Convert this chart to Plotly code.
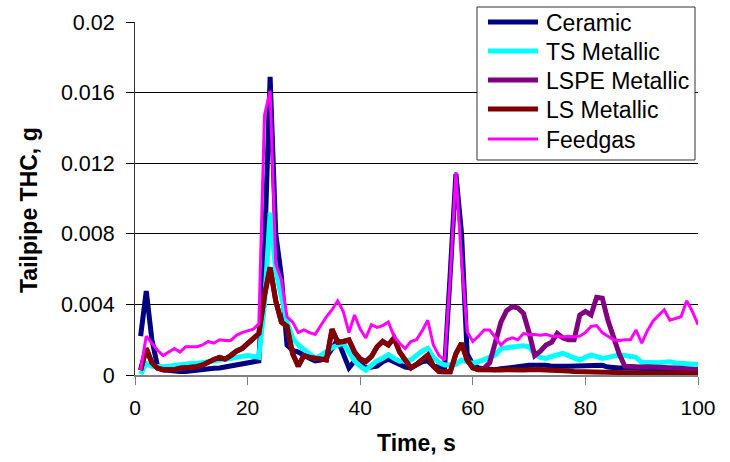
import plotly.graph_objects as go

time_s = list(range(1, 101))

ceramic = [2.2, 4.75, 2.0, 0.5, 0.3, 0.25, 0.2, 0.2, 0.2, 0.25,
           0.25, 0.3, 0.35, 0.38, 0.4, 0.45, 0.5, 0.55, 0.65, 0.7,
           0.75, 0.8, 7.0, 16.9, 8.0, 5.6, 1.7, 1.4, 1.3, 1.1,
           0.95, 0.8, 0.85, 1.0, 1.5, 2.0, 1.2, 0.4, 0.8, 0.65,
           0.4, 0.45, 0.5, 0.75, 0.9, 0.75, 0.6, 0.45, 0.4, 0.55,
           0.75, 0.8, 0.5, 0.45, 0.45, 5.8, 11.4, 8.0, 1.2, 0.6,
           0.4, 0.35, 0.3, 0.3, 0.35, 0.4, 0.4, 0.45, 0.5, 0.55,
           0.55, 0.57, 0.55, 0.5, 0.47, 0.5, 0.5, 0.5, 0.5, 0.55,
           0.57, 0.57, 0.55, 0.45, 0.4, 0.4, 0.4, 0.4, 0.4, 0.38,
           0.38, 0.38, 0.35, 0.35, 0.35, 0.33, 0.33, 0.3, 0.3, 0.3]

ts_metallic = [0.05, 0.65, 0.5, 0.45, 0.47, 0.5, 0.55, 0.6, 0.62, 0.65,
               0.66, 0.7, 0.72, 0.76, 0.8, 0.87, 0.94, 1.0, 1.05, 1.1,
               1.05, 1.0, 4.0, 9.2, 5.9, 4.5, 3.0, 2.1, 1.7, 1.45,
               1.2, 0.95, 1.1, 1.35, 1.55, 1.7, 1.8, 1.3, 0.8, 0.5,
               0.28, 0.55, 0.8, 0.95, 1.15, 0.95, 0.78, 0.8, 0.85, 1.1,
               1.35, 1.5, 1.0, 0.7, 0.57, 0.57, 0.6, 0.85, 0.75, 0.66,
               0.75, 0.85, 1.0, 1.13, 1.5, 1.55, 1.6, 1.62, 1.65, 1.6,
               1.2, 1.0, 0.94, 1.05, 1.15, 1.23, 1.1, 0.95, 0.85, 1.0,
               1.13, 1.05, 0.94, 1.0, 1.1, 1.13, 1.1, 1.05, 1.0, 0.72,
               0.7, 0.68, 0.7, 0.72, 0.75, 0.68, 0.65, 0.62, 0.6, 0.6]

lspe_metallic = [0.28, 1.5, 0.7, 0.38, 0.3, 0.28, 0.3, 0.38, 0.4, 0.45,
                 0.47, 0.57, 0.75, 0.88, 1.0, 0.9, 1.1, 1.35, 1.5, 1.8,
                 2.05, 2.35, 4.5, 6.1, 4.2, 3.0, 2.75, 1.2, 0.5, 1.1,
                 1.0, 0.94, 0.9, 0.85, 2.6, 1.85, 1.9, 1.98, 1.3, 0.9,
                 0.76, 1.05, 1.6, 1.9, 1.7, 2.1, 1.3, 0.8, 0.4, 0.6,
                 0.9, 1.13, 0.5, 0.2, 0.19, 0.19, 1.2, 1.8, 0.85, 0.4,
                 0.3, 0.38, 0.7, 1.8, 3.0, 3.65, 3.87, 3.8, 3.5, 2.4,
                 1.1, 1.35, 1.7, 1.85, 2.35, 2.1, 2.0, 2.0, 3.4, 3.6,
                 3.4, 4.4, 4.35, 3.1, 2.1, 1.2, 0.5, 0.47, 0.46, 0.46,
                 0.47, 0.47, 0.45, 0.47, 0.42, 0.4, 0.38, 0.35, 0.32, 0.3]

ls_metallic = [0.28, 1.5, 0.7, 0.38, 0.3, 0.28, 0.3, 0.38, 0.4, 0.45,
               0.47, 0.57, 0.75, 0.88, 1.0, 0.9, 1.1, 1.35, 1.5, 1.8,
               2.05, 2.35, 4.5, 6.1, 4.2, 3.0, 2.75, 1.2, 0.5, 1.1,
               1.0, 0.94, 0.9, 0.85, 2.6, 1.85, 1.9, 1.98, 1.3, 0.9,
               0.76, 1.05, 1.6, 1.9, 1.7, 2.1, 1.3, 0.8, 0.4, 0.6,
               0.9, 1.13, 0.5, 0.2, 0.19, 0.19, 1.2, 1.8, 0.85, 0.4,
               0.3, 0.28, 0.28, 0.28, 0.28, 0.3, 0.28, 0.25, 0.28, 0.3,
               0.32, 0.3, 0.28, 0.28, 0.25, 0.25, 0.22, 0.2, 0.19, 0.18,
               0.18, 0.17, 0.15, 0.12, 0.1, 0.1, 0.1, 0.1, 0.1, 0.1,
               0.1, 0.1, 0.1, 0.1, 0.1, 0.1, 0.1, 0.1, 0.1, 0.1]

feedgas = [0.3, 2.2, 1.8, 1.4, 1.1, 1.3, 1.5, 1.3, 1.6, 1.6,
           1.6, 1.7, 1.9, 1.8, 2.0, 1.95, 1.95, 2.25, 2.4, 2.5,
           2.6, 2.9, 14.7, 16.1, 6.3, 5.4, 3.3, 3.0, 2.4, 2.55,
           2.4, 2.3, 2.8, 3.3, 3.7, 4.2, 3.6, 2.4, 3.4, 2.6,
           2.1, 2.85, 2.7, 2.8, 3.0, 2.2, 1.8, 1.5, 1.9, 2.0,
           2.5, 3.1, 1.7, 1.1, 0.85, 5.6, 11.5, 6.5, 2.45, 1.9,
           2.2, 2.55, 2.55, 2.1, 1.7, 2.0, 2.1, 2.0, 2.35, 2.3,
           2.3, 2.25, 2.3, 2.2, 2.2, 2.15, 2.2, 2.15, 2.2, 2.4,
           2.75, 2.8, 2.4, 2.2, 2.0, 1.95, 2.0, 2.0, 2.55, 1.8,
           2.5, 3.05, 3.4, 3.7, 3.1, 3.2, 3.3, 4.2, 3.6, 2.85]

series_names = ["Ceramic", "TS Metallic", "LSPE Metallic", "LS Metallic", "Feedgas"]
series_mg = [ceramic, ts_metallic, lspe_metallic, ls_metallic, feedgas]
series_colors = ["#000080", "#00FFFF", "#800080", "#800000", "#FF00FF"]
series_widths = [5, 5, 5, 5, 3]

y_tick_vals = [0, 0.004, 0.008, 0.012, 0.016, 0.02]
y_tick_text = ["0", "0.004", "0.008", "0.012", "0.016", "0.02"]
x_tick_vals = [0, 20, 40, 60, 80, 100]

FONT = "Arial, Liberation Sans, sans-serif"

# plot-area geometry (pixels) used to place the legend box in paper units
W, H = 730, 462
ML, MR, MT, MB = 135, 32, 22, 87
PW, PH = W - ML - MR, H - MT - MB


def px_x(p):
    return (p - ML) / PW


def px_y(p):
    return (H - MB - p) / PH


fig = go.Figure()
for name, vals, col, w in zip(series_names, series_mg, series_colors, series_widths):
    fig.add_trace(go.Scatter(
        x=time_s, y=[v / 1000.0 for v in vals], name=name, mode="lines",
        line=dict(color=col, width=w), showlegend=False,
    ))

# legend drawn as a boxed key
shapes = [dict(type="rect", xref="paper", yref="paper",
               x0=px_x(477), x1=px_x(695), y0=px_y(160), y1=px_y(7),
               fillcolor="white", line=dict(color="#333333", width=1), layer="above")]
annotations = []
legend_rows = [22, 51, 80, 109, 139]
for name, col, w, row in zip(series_names, series_colors, series_widths, legend_rows):
    shapes.append(dict(type="line", xref="paper", yref="paper",
                       x0=px_x(488), x1=px_x(538), y0=px_y(row), y1=px_y(row),
                       line=dict(color=col, width=w), layer="above"))
    annotations.append(dict(text=name, xref="paper", yref="paper",
                            x=px_x(544), y=px_y(row + 1), xanchor="left", yanchor="middle",
                            showarrow=False, font=dict(family=FONT, size=23, color="black")))

annotations += [
    dict(text="<b>Time, s</b>", xref="paper", yref="paper", x=0.5, y=px_y(443),
         xanchor="center", yanchor="middle", showarrow=False,
         font=dict(family=FONT, size=23)),
    dict(text="<b>Tailpipe THC, g</b>", xref="paper", yref="paper", x=px_x(29), y=px_y(210),
         xanchor="center", yanchor="middle", showarrow=False, textangle=-90,
         font=dict(family=FONT, size=23)),
]

fig.update_layout(
    width=W, height=H,
    margin=dict(l=ML, r=MR, t=MT, b=MB),
    paper_bgcolor="white", plot_bgcolor="white",
    font=dict(family=FONT, size=21, color="black"),
    showlegend=False,
    xaxis=dict(
        range=[0, 100], tickvals=x_tick_vals, showgrid=False, zeroline=False,
        showline=True, linecolor="#808080", linewidth=2,
        ticks="outside", ticklen=8, tickcolor="#808080", tickwidth=1,
        ticklabelstandoff=5,
        tickfont=dict(family=FONT, size=21),
    ),
    yaxis=dict(
        range=[0, 0.02], tickvals=y_tick_vals, ticktext=y_tick_text,
        showgrid=True, gridcolor="black", gridwidth=1, zeroline=False,
        showline=True, linecolor="#333333", linewidth=1,
        ticks="outside", ticklen=8, tickcolor="black", tickwidth=1,
        ticklabelstandoff=7,
        tickfont=dict(family=FONT, size=21.5),
    ),
    shapes=shapes,
    annotations=annotations,
)

fig.write_html("out.html")
